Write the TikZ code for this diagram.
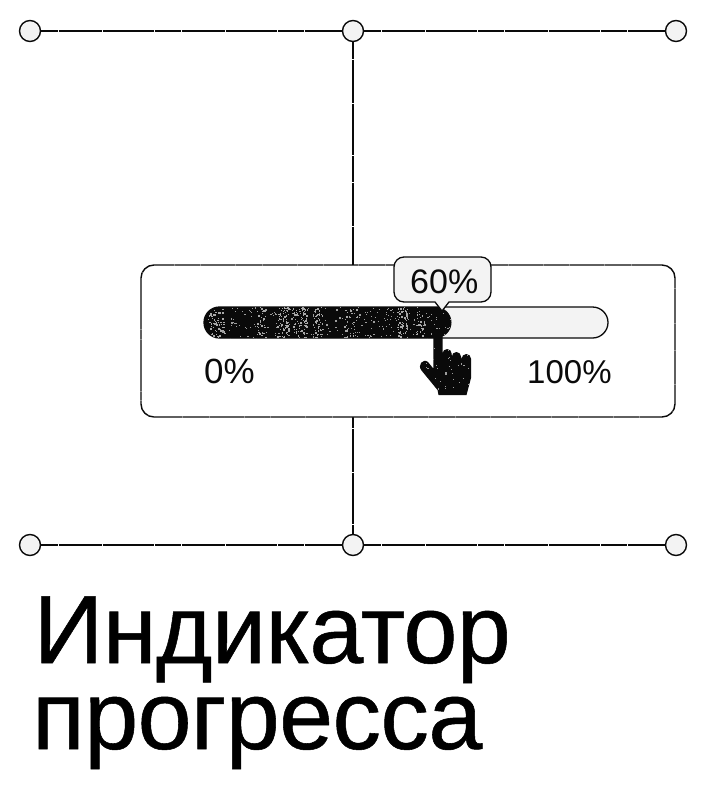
\documentclass[tikz,border=0pt]{standalone}
\usepackage{fontspec}
\setmainfont{Liberation Sans}
\newfontfamily\titlefont[FakeBold=0.55,LetterSpace=-0.6]{Liberation Sans}
\definecolor{ink}{HTML}{0A0A0A}
\definecolor{pale}{HTML}{F3F3F3}
\tikzset{
  worn/.style={dash pattern=on 17pt off .4pt on 5pt off .3pt on 29pt off .5pt on 9pt off .3pt},
  dot/.style={circle,draw=ink,fill=pale,line width=1.4pt,minimum size=21pt,inner sep=0pt},
  wire/.style={draw=ink,line width=1.1pt,worn},
  panel/.style={draw=ink,line width=1.4pt,fill=white,rounded corners=13pt,worn},
  lbl/.style={inner sep=0pt,text=ink,anchor=base west},
  titletext/.style={inner sep=0pt,text=black,anchor=base west,font=\titlefont\fontsize{97}{97}\selectfont}
}
\newcommand{\barshape}{(219.5,307) arc[start angle=-90,end angle=-270,radius=15.5] -- (436,338) arc[start angle=90,end angle=-90,radius=15.5] -- cycle}
\newcommand{\handshape}{(433.3,335) -- (442.5,335) -- (442.5,353.6)
  arc[start angle=180,end angle=360,radius=4.6] -- (451.8,356.6)
  arc[start angle=180,end angle=360,radius=4.6] -- (461.6,358.7)
  arc[start angle=180,end angle=360,radius=4.7] -- (471,378) -- (466.5,395) -- (438.5,395) -- (437.5,390) -- (421.5,370.5)
  .. controls (417,365) and (423,358) .. (428,362) -- (433.3,368.5) -- cycle}
\begin{document}
\begin{tikzpicture}[x=1pt,y=-1pt]
\useasboundingbox (0,0) rectangle (706,800);
\node[dot] (a1) at (30,31) {};
\node[dot] (a2) at (353,31) {};
\node[dot] (a3) at (676,31) {};
\node[dot] (b1) at (30,545) {};
\node[dot] (b2) at (353,545) {};
\node[dot] (b3) at (676,545) {};
\draw[wire] (a1) -- (a2);
\draw[wire] (a2) -- (a3);
\draw[wire] (b1) -- (b2);
\draw[wire] (b2) -- (b3);
\draw[wire] (a2) -- (b2);
% panel
\path[panel] (141,265) rectangle (675,417);
% track
\path[draw=ink,line width=1.3pt,fill=pale,rounded corners=15.5pt] (204,307) rectangle (608,338);
% filled part
\fill[ink] \barshape;
% worn texture
\begin{scope}
\clip \barshape;
\pgfmathsetseed{4217}
\foreach \i in {1,...,260}{
  \pgfmathsetmacro{\px}{204+rnd*248}
  \pgfmathsetmacro{\py}{307+rnd*31}
  \pgfmathsetmacro{\ps}{0.5+rnd*0.9}
  \fill[white!60!ink] (\px,\py) rectangle ++(\ps,\ps);
}
\foreach \cx/\cw/\cn in {216/16/70,262/10/25,283/12/60,300/14/70,318/8/35,350/14/25,402/10/60,420/8/25}{
  \foreach \i in {1,...,\cn}{
    \pgfmathsetmacro{\px}{\cx+(rnd-0.5)*\cw}
    \pgfmathsetmacro{\py}{307+rnd*31}
    \pgfmathsetmacro{\ps}{0.6+rnd*1.3}
    \fill[white!65!ink] (\px,\py) rectangle ++(\ps,\ps);
  }
}
\end{scope}
% bubble
\path[draw=ink,line width=1.3pt,fill=pale,line join=round]
  (404,257) -- (481,257) arc[start angle=-90,end angle=0,radius=10] -- (491,292)
  arc[start angle=0,end angle=90,radius=10] -- (449,302) -- (442,311) -- (435,302) -- (404,302)
  arc[start angle=90,end angle=180,radius=10] -- (394,267) arc[start angle=180,end angle=270,radius=10] -- cycle;
\node[lbl,font=\fontsize{34}{34}\selectfont] (pct) at (410,293) {60\%};
\node[lbl,font=\fontsize{35}{35}\selectfont] (zero) at (204,383) {0\%};
\node[lbl,font=\fontsize{33}{33}\selectfont] (full) at (527,383) {100\%};
% hand
\fill[ink] \handshape;
\begin{scope}
\clip \handshape;
\foreach \i in {1,...,50}{
  \pgfmathsetmacro{\px}{420+rnd*50}
  \pgfmathsetmacro{\py}{345+rnd*50}
  \pgfmathsetmacro{\ps}{0.5+rnd*0.8}
  \fill[white!60!ink] (\px,\py) rectangle ++(\ps,\ps);
}
\end{scope}
% title
\node[titletext] (t1) at (33.5,663) {Индикатор};
\node[titletext] (t2) at (32,749) {прогресса};
\end{tikzpicture}
\end{document}
